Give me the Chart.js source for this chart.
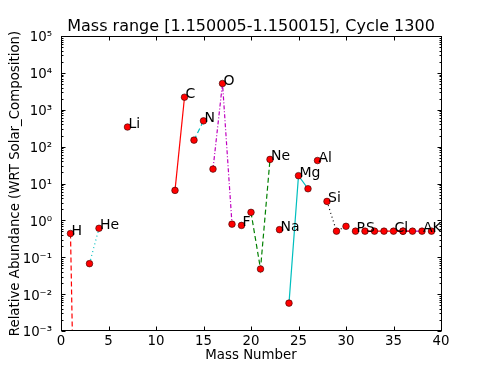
<!DOCTYPE html>
<html>
<head>
<meta charset="utf-8">
<script src="https://cdn.jsdelivr.net/npm/chart.js@4/dist/chart.umd.min.js"></script>
<style>
    html, body { margin: 0; padding: 0; background: #fff; }
    #caixa { width: 491px; height: 368px; }
</style>
</head>
<body>
<div id="caixa"><canvas id="grafico" width="491" height="368"></canvas></div>
<script>
// ==========================================
// 1. DADOS
// ==========================================
const elementos = ['H', 'He', 'Li', 'C', 'N', 'O', 'F', 'Ne', 'Na', 'Mg', 'Al', 'Si', 'P', 'S', 'Cl', 'A', 'K'];
const massas = [[1, 2], [3, 4], [7], [12, 13], [14, 15], [16, 17, 18], [19], [20, 21, 22], [23], [24, 25, 26], [27], [28, 29, 30], [31], [32, 33, 34, 36], [35, 37], [36, 38], [39]];
const abundancias = [
    [0.44, 5e-15], [0.067, 0.61], [340], [6.5, 2190], [150, 500], [24.6, 5150, 0.79],
    [0.73], [1.65, 0.048, 45], [0.56], [0.0057, 16.3, 7.2], [42], [3.27, 0.51, 0.69],
    [0.51], [0.51, 0.51, 0.51, 0.51], [0.51, 0.51], [0.51, 0.51], [0.51]
];
// massa onde fica o nome de cada elemento
const massaRotulo = [1, 4, 7, 13, 15, 17, 19, 22, 23, 25, 27, 28, 31, 32, 35, 38, 39];

const ticksX = [0, 5, 10, 15, 20, 25, 30, 35, 40];
const ticksY = [1e-3, 1e-2, 1e-1, 1e0, 1e1, 1e2, 1e3, 1e4, 1e5];
const rotulosY = ['10⁻³', '10⁻²', '10⁻¹', '10⁰', '10¹', '10²', '10³', '10⁴', '10⁵'];

// estilo de linha por elemento (cor, traço)
const estilos = [
    ['#ff0000', [5, 3]], ['#00bfbf', [1, 3]], ['#ff0000', []], ['#ff0000', []],
    ['#00bfbf', [5, 3]], ['#bf00bf', [4, 2, 1, 2]], ['#000000', []], ['#008000', [5, 3]],
    ['#000000', []], ['#00bfbf', []], ['#000000', []], ['#000000', [1, 3]],
    ['#000000', []], ['#ff0000', []], ['#ff0000', []], ['#bf00bf', []], ['#000000', []]
];

const fonte = 'DejaVu Sans';
Chart.defaults.font.family = fonte;
Chart.defaults.color = '#000';

// ==========================================
// 2. PLUGINS (moldura, ticks para dentro, nomes)
// ==========================================
const moldura = {
    id: 'moldura',
    afterDatasetsDraw(chart) {
        const { ctx, chartArea: a, scales: { x, y } } = chart;
        const l = Math.round(a.left) + 0.5, r = Math.round(a.right) + 0.5;
        const t = Math.round(a.top) + 0.5, b = Math.round(a.bottom) - 0.5;
        ctx.save();
        ctx.strokeStyle = '#000';
        ctx.lineWidth = 1;
        ctx.beginPath();

        // ticks do eixo x (baixo e cima)
        ticksX.forEach(v => {
            const px = Math.round(x.getPixelForValue(v)) + 0.5;
            ctx.moveTo(px, b); ctx.lineTo(px, b - 4);
            ctx.moveTo(px, t); ctx.lineTo(px, t + 4);
        });
        // ticks do eixo y, maiores e menores
        ticksY.forEach((v, i) => {
            const py = Math.round(y.getPixelForValue(v)) + 0.5;
            ctx.moveTo(l, py); ctx.lineTo(l + 4, py);
            ctx.moveTo(r, py); ctx.lineTo(r - 4, py);
            if (i === ticksY.length - 1) return;
            for (let k = 2; k <= 9; k++) {
                const pm = Math.round(y.getPixelForValue(v * k)) + 0.5;
                ctx.moveTo(l, pm); ctx.lineTo(l + 2, pm);
                ctx.moveTo(r, pm); ctx.lineTo(r - 2, pm);
            }
        });
        ctx.stroke();
        ctx.strokeRect(l, t, r - l, b - t);

        // nomes dos elementos
        ctx.fillStyle = '#000';
        ctx.font = '14px "' + fonte + '"';
        ctx.textAlign = 'left';
        ctx.textBaseline = 'alphabetic';
        elementos.forEach((el, i) => {
            const j = massas[i].indexOf(massaRotulo[i]);
            const px = x.getPixelForValue(massaRotulo[i]);
            const py = y.getPixelForValue(abundancias[i][j]);
            ctx.fillText(el, px + 1, py + 1);
        });
        ctx.restore();
    }
};

// ==========================================
// 3. GRÁFICO
// ==========================================
const conjuntos = elementos.map((el, i) => ({
    label: el,
    data: massas[i].map((m, j) => ({ x: m, y: abundancias[i][j] })),
    borderColor: estilos[i][0],
    borderDash: estilos[i][1],
    borderWidth: 1.2,
    showLine: true,
    tension: 0,
    pointRadius: 3.3,
    pointBackgroundColor: '#ff0000',
    pointBorderColor: '#300000',
    pointBorderWidth: 0.6
}));

new Chart(document.getElementById('grafico'), {
    type: 'line',
    data: { datasets: conjuntos },
    options: {
        responsive: false,
        animation: false,
        devicePixelRatio: 1,
        layout: { padding: { left: 0, right: 50, top: 0, bottom: 0 } },
        plugins: {
            legend: { display: false },
            tooltip: { enabled: false },
            title: {
                display: true,
                fullSize: false,
                text: 'Mass range [1.150005-1.150015], Cycle 1300',
                color: '#000',
                font: { size: 16, weight: 'normal', lineHeight: 1.2 },
                padding: { top: 16.8, bottom: 0 }
            }
        },
        scales: {
            x: {
                type: 'linear',
                min: 0, max: 40,
                afterBuildTicks: s => { s.ticks = ticksX.map(v => ({ value: v })); },
                afterFit: s => { s.height = 37; },
                grid: { display: false, drawTicks: false },
                border: { display: false },
                ticks: { font: { size: 13.33 }, padding: 3, maxRotation: 0, autoSkip: false },
                title: {
                    display: true, text: 'Mass Number',
                    font: { size: 13.33, lineHeight: 1.2 },
                    padding: { top: 0, bottom: 4 }
                }
            },
            y: {
                type: 'logarithmic',
                min: 1e-3, max: 1e5,
                afterBuildTicks: s => { s.ticks = ticksY.map(v => ({ value: v })); },
                afterFit: s => { s.width = 61; },
                grid: { display: false, drawTicks: false },
                border: { display: false },
                ticks: {
                    font: { size: 13.33 }, padding: 9, labelOffset: 2, autoSkip: false,
                    callback: (v, i) => rotulosY[i]
                },
                title: {
                    display: true, text: 'Relative Abundance (WRT Solar_Composition)',
                    font: { size: 13.33, lineHeight: 1.2 },
                    padding: { top: 8, bottom: 0 }
                }
            }
        }
    },
    plugins: [moldura]
});
</script>
</body>
</html>
